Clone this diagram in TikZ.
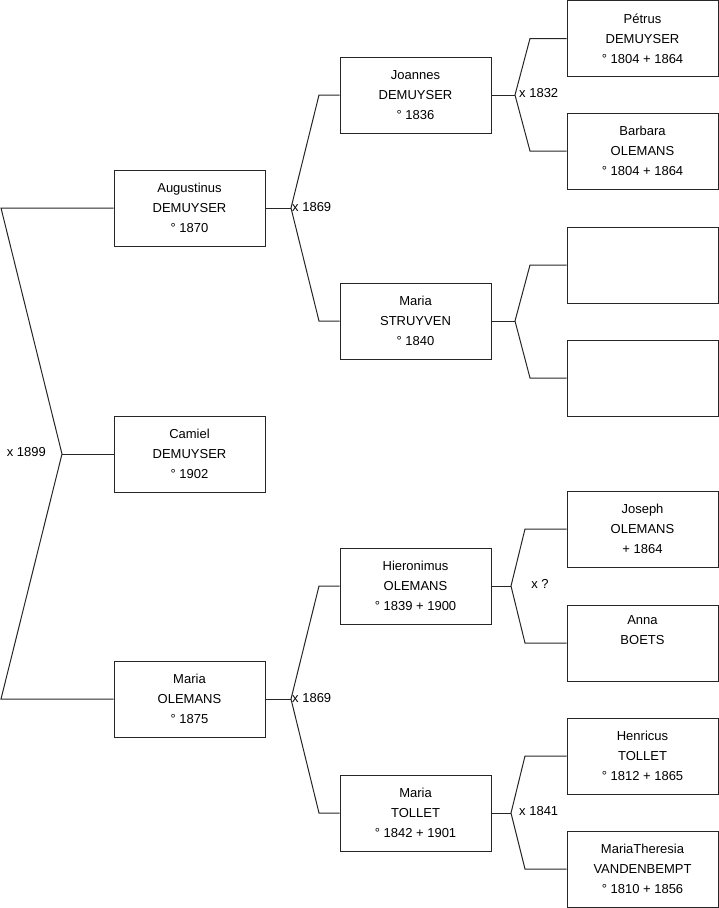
\documentclass[tikz,border=0pt]{standalone}
\usepackage{fontspec}
\setmainfont{Liberation Sans}
\tikzset{
  person/.style={draw=black!85, line width=1pt, rectangle, minimum width=151pt, minimum height=76pt,
    inner sep=0pt, align=center, font=\fontsize{13}{20}\selectfont},
  link/.style={draw=black!85, line width=1pt},
  wed/.style={font=\fontsize{13}{16}\selectfont, inner sep=2pt}
}
\begin{document}
\begin{tikzpicture}[x=1pt, y=-1pt]
\useasboundingbox (0,0) rectangle (719,908);
% first and second generation
\node[person] (camiel) at (189.5,454) {Camiel\\DEMUYSER\\° 1902};
\node[person] (aug) at (189.5,208) {Augustinus\\DEMUYSER\\° 1870};
\node[person] (mariaO) at (189.5,699) {Maria\\OLEMANS\\° 1875};
% grandparents
\node[person] (joannes) at (415.5,95) {Joannes\\DEMUYSER\\° 1836};
\node[person] (mariaS) at (415.5,321) {Maria\\STRUYVEN\\° 1840};
\node[person] (hier) at (415.5,586) {Hieronimus\\OLEMANS\\° 1839 + 1900};
\node[person] (mariaT) at (415.5,813) {Maria\\TOLLET\\° 1842 + 1901};
% great-grandparents
\node[person] (petrus) at (642.5,38.5) {Pétrus\\DEMUYSER\\° 1804 + 1864};
\node[person] (barbara) at (642.5,151) {Barbara\\OLEMANS\\° 1804 + 1864};
\node[person] (emptyA) at (642.5,265) {};
\node[person] (emptyB) at (642.5,378) {};
\node[person] (joseph) at (642.5,529) {Joseph\\OLEMANS\\+ 1864};
\node[person] (anna) at (642.5,643) {Anna\\BOETS\\\strut};
\node[person] (henricus) at (642.5,756) {Henricus\\TOLLET\\° 1812 + 1865};
\node[person] (theresia) at (642.5,869) {MariaTheresia\\VANDENBEMPT\\° 1810 + 1856};

% marriage forks
\coordinate (v0) at (62,454);
\draw[link] (aug.west) -- (1,208) -- (v0) -- (1,699) -- (mariaO.west);
\draw[link] (camiel.west) -- (v0);
\node[wed, anchor=east] (w1899) at (48,452) {x 1899};

\coordinate (v1) at (291,208);
\draw[link] (aug.east) -- (v1);
\draw[link] (joannes.west) -- (319,95) -- (v1) -- (319,321) -- (mariaS.west);
\node[wed, anchor=west] (w1869a) at (290,207) {x 1869};

\coordinate (v2) at (515,95);
\draw[link] (joannes.east) -- (v2);
\draw[link] (petrus.west) -- (530,38.5) -- (v2) -- (530,151) -- (barbara.west);
\node[wed, anchor=west] (w1832) at (517,93) {x 1832};

\coordinate (v3) at (515,321);
\draw[link] (mariaS.east) -- (v3);
\draw[link] (emptyA.west) -- (530,265) -- (v3) -- (530,378) -- (emptyB.west);

\coordinate (v4) at (291,699);
\draw[link] (mariaO.east) -- (v4);
\draw[link] (hier.west) -- (319,586) -- (v4) -- (319,813) -- (mariaT.west);
\node[wed, anchor=west] (w1869b) at (290,698) {x 1869};

\coordinate (v5) at (511,586);
\draw[link] (hier.east) -- (v5);
\draw[link] (joseph.west) -- (525,529) -- (v5) -- (525,643) -- (anna.west);
\node[wed] (wq) at (540,584) {x ?};

\coordinate (v6) at (511,813);
\draw[link] (mariaT.east) -- (v6);
\draw[link] (henricus.west) -- (525,756) -- (v6) -- (525,869) -- (theresia.west);
\node[wed, anchor=west] (w1841) at (517,811) {x 1841};
\end{tikzpicture}
\end{document}
